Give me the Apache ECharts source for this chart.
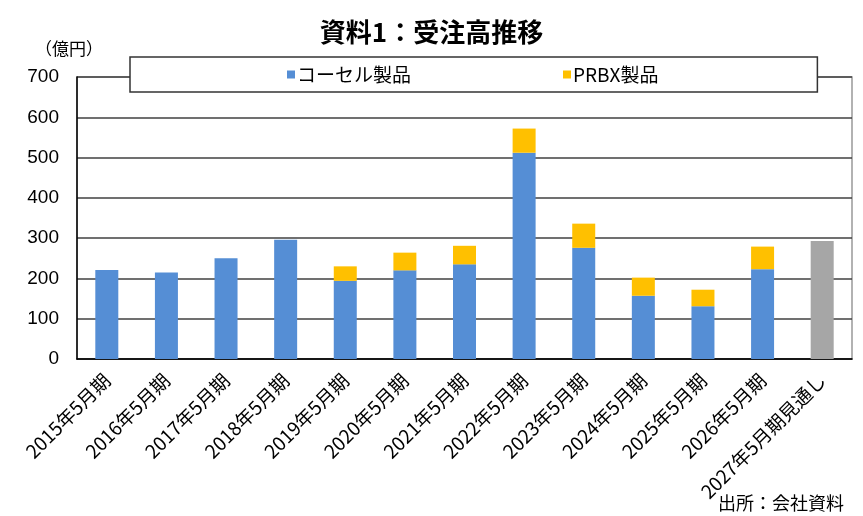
<!DOCTYPE html>
<html>
<head>
<meta charset="utf-8">
<script src="https://cdn.jsdelivr.net/npm/echarts@6/dist/echarts.min.js"></script>
<style>
  html, body { margin: 0; padding: 0; background: #fff; }
  #chart { width: 863px; height: 516px; }
</style>
</head>
<body>
<div id="chart"></div>
<script>
// data
var categories = ['2015年5月期', '2016年5月期', '2017年5月期', '2018年5月期', '2019年5月期',
  '2020年5月期', '2021年5月期', '2022年5月期', '2023年5月期', '2024年5月期',
  '2025年5月期', '2026年5月期', '2027年5月期見通し'];
var koselValues = [221, 215, 250, 296, 194, 220, 235, 512, 276, 157, 131, 223, null];
var prbxValues = [null, null, null, null, 36, 44, 46, 60, 60, 45, 41, 56, null];
var forecastValues = [null, null, null, null, null, null, null, null, null, null, null, null, 293];
var yTicks = [0, 100, 200, 300, 400, 500, 600, 700];

var font = '"Noto Sans CJK JP", "Liberation Sans", sans-serif';

var chart = echarts.init(document.getElementById('chart'));
chart.setOption({
  animation: false,
  backgroundColor: '#fff',
  textStyle: { fontFamily: font },
  title: [
    {
      text: '資料1：受注高推移',
      left: 'center',
      top: 14,
      textStyle: { fontSize: 26, fontWeight: 'bold', color: '#000', fontFamily: font }
    },
    {
      text: '（億円）',
      left: 30,
      top: 35,
      textStyle: { fontSize: 17, fontWeight: 'normal', color: '#000', fontFamily: font }
    },
    {
      text: '出所：会社資料',
      right: 14,
      top: 489,
      textStyle: { fontSize: 18, fontWeight: 'normal', color: '#000', fontFamily: font }
    }
  ],
  legend: {
    data: ['コーセル製品', 'PRBX製品'],
    left: 130,
    top: 57,
    padding: [8, 159, 8, 157],
    itemGap: 152,
    itemWidth: 8,
    itemHeight: 8,
    icon: 'rect',
    backgroundColor: '#fff',
    borderColor: '#333',
    borderWidth: 1.5,
    textStyle: { fontSize: 19, color: '#000', padding: [0, 0, 0, -3] }
  },
  grid: {
    left: 77,
    right: 11,
    top: 77,
    bottom: 157,
    show: true,
    borderColor: '#999',
    borderWidth: 1.5
  },
  xAxis: {
    type: 'category',
    data: categories,
    axisLine: { lineStyle: { color: '#000', width: 1.5 } },
    axisTick: { inside: true, length: 5, lineStyle: { color: '#000' } },
    axisLabel: {
      rotate: 45,
      interval: 0,
      margin: 18,
      fontSize: 19,
      color: '#000',
      fontFamily: font
    }
  },
  yAxis: {
    type: 'value',
    min: yTicks[0],
    max: yTicks[yTicks.length - 1],
    interval: 100,
    axisLine: { show: true, lineStyle: { color: '#000', width: 1.5 } },
    axisTick: { show: false },
    splitLine: { lineStyle: { color: '#404040', width: 1.5 } },
    axisLabel: { margin: 18, fontSize: 19, color: '#000', fontFamily: '"Liberation Sans", sans-serif' }
  },
  series: [
    {
      name: 'コーセル製品',
      type: 'bar',
      stack: 'total',
      barWidth: 23,
      itemStyle: { color: '#558ED5' },
      data: koselValues
    },
    {
      name: 'PRBX製品',
      type: 'bar',
      stack: 'total',
      barWidth: 23,
      itemStyle: { color: '#FFC000' },
      data: prbxValues
    },
    {
      name: '見通し',
      type: 'bar',
      stack: 'total',
      barWidth: 23,
      itemStyle: { color: '#A6A6A6' },
      data: forecastValues
    }
  ]
});
</script>
</body>
</html>
